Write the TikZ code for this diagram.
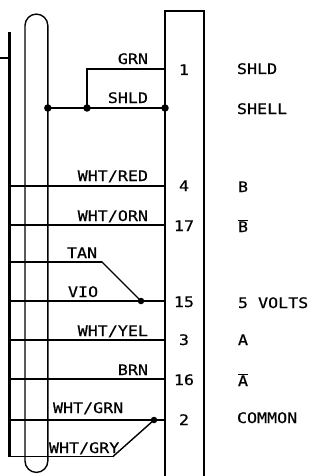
\documentclass[tikz,border=0pt]{standalone}
\usepackage{fontspec}
\setmainfont{DejaVu Sans Mono}[FakeStretch=1.15,FakeBold=0.6]
\tikzset{
  wire/.style={line width=1.4pt,black,line cap=round},
  bar/.style={line width=2.2pt,black},
  lbl/.style={anchor=base west,inner sep=0pt,outer sep=0pt,font=\fontsize{14.5}{14.5}\selectfont},
  rlbl/.style={anchor=base east,inner sep=0pt,outer sep=0pt,font=\fontsize{14.5}{14.5}\selectfont},
  pin/.style={anchor=base,inner sep=0pt,outer sep=0pt,font=\fontsize{14.5}{14.5}\selectfont},
  jdot/.style={circle,fill=black,inner sep=0pt,minimum size=7.5pt}
}
\begin{document}
\begin{tikzpicture}[x=1pt,y=-1pt]
\useasboundingbox (0,0) rectangle (327,476);
% ground bar and stub
\coordinate (barT) at (9.5,32);
\coordinate (barB) at (9.5,457);
\coordinate (stub) at (0,58);
\coordinate (stubE) at (9.5,58);
\draw[bar] (barT) -- (barB);
\draw[wire] (stub) -- (stubE);
% cable loop
\draw[wire] (25,461) -- (25,25.5) arc[start angle=180,end angle=360,radius=11.4] -- (47.8,461) arc[start angle=0,end angle=180,radius=11.4];
% connector body
\coordinate (cTL) at (165,11);
\coordinate (cTR) at (204,11);
\coordinate (cBL) at (165,476);
\coordinate (cBR) at (204,476);
\draw[wire] (cBL) -- (cTL) -- (cTR) -- (cBR);
% junctions
\node[jdot] (j1) at (47.8,108) {};
\node[jdot] (j2) at (87,108) {};
\node[jdot] (j3) at (165,108) {};
\node[jdot,minimum size=6.5pt] (j4) at (141,301) {};
\node[jdot,minimum size=6.5pt] (j5) at (154,420) {};
% wire ends
\coordinate (g) at (165,69);
\coordinate (a1) at (9.5,186);  \coordinate (b1) at (165,186);
\coordinate (a2) at (9.5,225);  \coordinate (b2) at (165,225);
\coordinate (a3) at (9.5,262);  \coordinate (k3) at (102,262);
\coordinate (a4) at (9.5,301);  \coordinate (b4) at (165,301);
\coordinate (a5) at (9.5,340);  \coordinate (b5) at (165,340);
\coordinate (a6) at (9.5,379);  \coordinate (b6) at (165,379);
\coordinate (a7) at (9.5,420);  \coordinate (b7) at (165,420);
\coordinate (a8) at (9.5,456.5);\coordinate (k8) at (113,456.5);
\draw[wire] (j1.center) -- (j3.center);
\draw[wire] (j2.center) |- (g);
\draw[wire] (a1) -- (b1);
\draw[wire] (a2) -- (b2);
\draw[wire] (a3) -- (k3);
\draw[wire] (k3) -- (j4.center);
\draw[wire] (a4) -- (b4);
\draw[wire] (a5) -- (b5);
\draw[wire] (a6) -- (b6);
\draw[wire] (a7) -- (b7);
\draw[wire] (a8) -- (k8);
\draw[wire] (k8) -- (j5.center);
% wire colours
\node[rlbl] (t1) at (148,64) {GRN};
\node[rlbl] (t2) at (148,103) {SHLD};
\node[rlbl] (t3) at (148,181) {WHT/RED};
\node[rlbl] (t4) at (148,221) {WHT/ORN};
\node[lbl] (t5) at (67,258) {TAN};
\node[lbl] (t6) at (68,297) {VIO};
\node[rlbl] (t7) at (148,336) {WHT/YEL};
\node[rlbl] (t8) at (148,375) {BRN};
\node[lbl] (t9) at (53,413) {WHT/GRN};
\node[lbl] (t10) at (49,453) {WHT/GRY};
% pins
\node[pin] (p1) at (184,75) {1};
\node[pin] (p4) at (184,191) {4};
\node[pin] (p17) at (184,231) {17};
\node[pin] (p15) at (184,307) {15};
\node[pin] (p3) at (184,345) {3};
\node[pin] (p16) at (184,385) {16};
\node[pin] (p2) at (184,425) {2};
% signals
\node[lbl] (s1) at (237,74) {SHLD};
\node[lbl] (s2) at (237,114) {SHELL};
\node[lbl] (s3) at (238,192) {B};
\node[lbl] (s4) at (238,232) {$\overline{\hbox{B}}$};
\node[lbl] (s5) at (238,308) {5 VOLTS};
\node[lbl] (s6) at (238,345) {A};
\node[lbl] (s7) at (238,386) {$\overline{\hbox{A}}$};
\node[lbl] (s8) at (237,423) {COMMON};
\end{tikzpicture}
\end{document}
